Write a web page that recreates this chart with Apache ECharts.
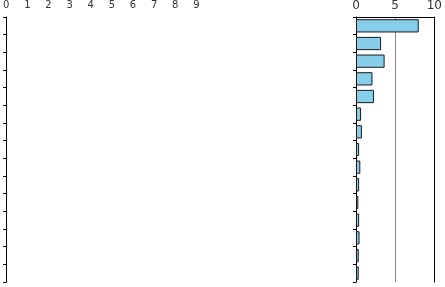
<!DOCTYPE html>
<html>
<head>
<meta charset="utf-8">
<script src="https://cdn.jsdelivr.net/npm/echarts@6/dist/echarts.min.js"></script>
<style>html,body{margin:0;padding:0;background:#fff}#c{width:445px;height:287px}</style>
</head>
<body>
<div id="c"></div>
<script>
var categories = ['C1','C2','C3','C4','C5','C6','C7','C8','C9','C10','C11','C12','C13','C14','C15'];
var barValues = [8.0, 3.2, 3.65, 2.1, 2.3, 0.65, 0.75, 0.4, 0.55, 0.4, 0.3, 0.4, 0.45, 0.35, 0.35];
var leftTicks = [0, 1, 2, 3, 4, 5, 6, 7, 8, 9];
var rightTicks = [0, 5, 10];

var chart = echarts.init(document.getElementById('c'), null, {renderer: 'canvas'});
var font = 'DejaVu Sans';
chart.setOption({
  animation: false,
  grid: [
    {left: 5, top: 17, width: 339.2, bottom: 5},
    {left: 356, top: 17, width: 82, bottom: 5}
  ],
  xAxis: [
    {
      gridIndex: 0, type: 'value', position: 'top', min: 0, max: 16, interval: 1,
      axisLine: {show: false}, axisTick: {show: false}, splitLine: {show: false},
      axisLabel: {
        margin: 7, fontSize: 10, color: '#333', fontFamily: font,
        formatter: function (v) { return leftTicks.indexOf(v) >= 0 ? String(v) : ''; }
      }
    },
    {
      gridIndex: 1, type: 'value', position: 'top', min: rightTicks[0], max: rightTicks[rightTicks.length - 1], interval: 5,
      axisLine: {show: true, lineStyle: {color: '#000', width: 1}},
      axisTick: {show: false},
      splitLine: {show: true, lineStyle: {color: '#888', width: 1}},
      axisLabel: {margin: 5, fontSize: 12, color: '#333', fontFamily: font, showMaxLabel: true}
    }
  ],
  yAxis: [
    {
      gridIndex: 0, type: 'category', data: categories, inverse: true,
      axisLine: {show: true, lineStyle: {color: '#000', width: 1}},
      axisTick: {show: true, length: 3, lineStyle: {color: '#000'}},
      axisLabel: {show: false}, splitLine: {show: false}
    },
    {
      gridIndex: 1, type: 'category', data: categories, inverse: true,
      axisLine: {show: true, lineStyle: {color: '#000', width: 1}},
      axisTick: {show: true, length: 3, lineStyle: {color: '#000'}},
      axisLabel: {show: false}, splitLine: {show: false}
    },
    {
      gridIndex: 1, type: 'category', data: categories, inverse: true, position: 'right',
      axisLine: {show: true, lineStyle: {color: '#000', width: 1}},
      axisTick: {show: false}, axisLabel: {show: false}, splitLine: {show: false}
    }
  ],
  series: [
    {
      type: 'bar', xAxisIndex: 1, yAxisIndex: 1, data: barValues,
      barCategoryGap: '25%',
      itemStyle: {color: '#87ceeb', borderColor: '#1a1a1a', borderWidth: 1}
    }
  ]
});
</script>
</body>
</html>
